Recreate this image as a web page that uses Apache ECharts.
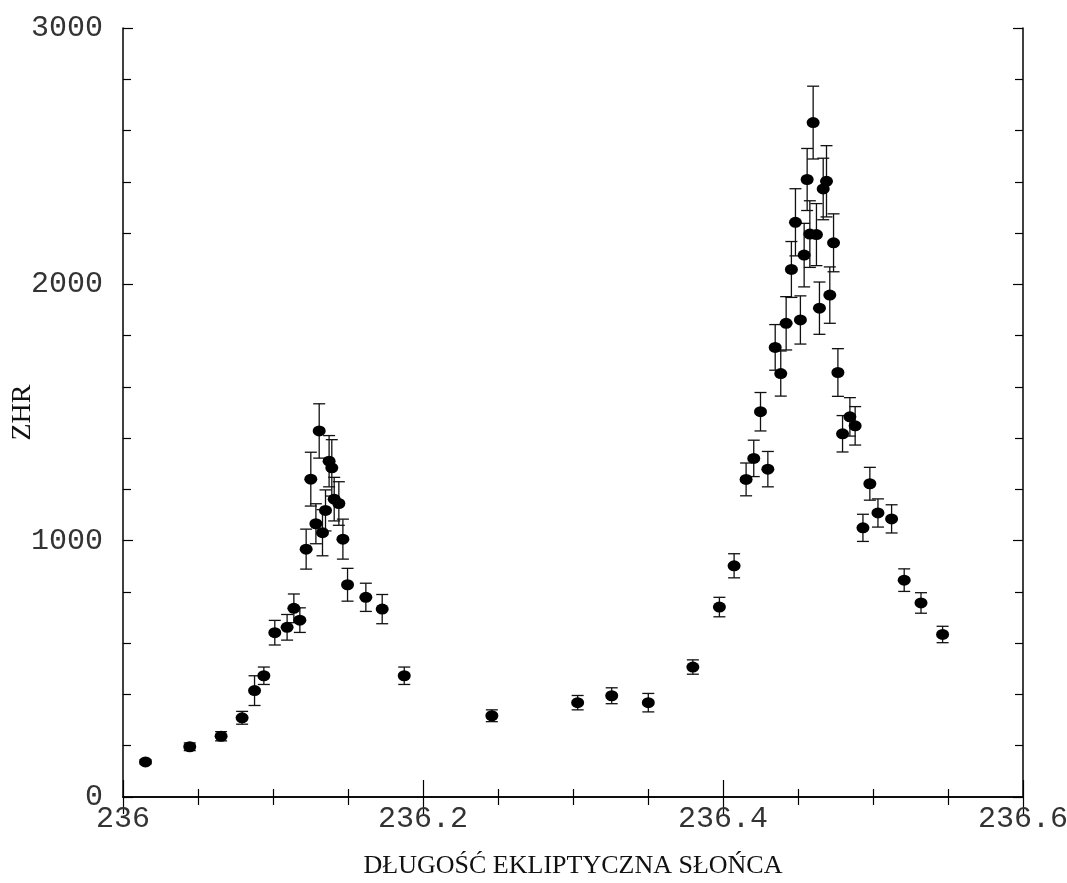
<!DOCTYPE html>
<html>
<head>
<meta charset="utf-8">
<script src="https://cdn.jsdelivr.net/npm/echarts@6/dist/echarts.min.js"></script>
<style>html,body{margin:0;padding:0;background:#fff}#c{width:1067px;height:883px}</style>
</head>
<body>
<div id="c"></div>
<script>
const solarLongitude = [236.015, 236.0445, 236.0654, 236.0794, 236.0877, 236.0939, 236.1012, 236.1094, 236.1139, 236.1179,
  236.1221, 236.1252, 236.1286, 236.1308, 236.1330, 236.1350, 236.1374, 236.1392, 236.1408, 236.1439,
  236.1466, 236.1497, 236.1619, 236.1728, 236.1875, 236.2459, 236.3031, 236.3258, 236.3502, 236.3799,
  236.3976, 236.4074, 236.4154, 236.4205, 236.4250, 236.4299, 236.4348, 236.4385, 236.4421, 236.4456,
  236.4483, 236.4516, 236.4541, 236.4561, 236.4579, 236.4601, 236.4623, 236.4643, 236.4668, 236.4690,
  236.4712, 236.4737, 236.4766, 236.4797, 236.4846, 236.4881, 236.4933, 236.4979, 236.5033, 236.5124,
  236.5208, 236.5320, 236.5464];
const zhr = [137, 196, 237, 309, 415, 473, 641, 662, 736, 690,
  967, 1240, 1066, 1428, 1031, 1118, 1310, 1284, 1162, 1145,
  1006, 828, 779, 733, 473, 317, 368, 395, 368, 507,
  741, 902, 1239, 1321, 1503, 1279, 1754, 1652, 1848, 2058,
  2242, 1861, 2114, 2409, 2196, 2631, 2194, 1907, 2372, 2402,
  1958, 2162, 1656, 1417, 1483, 1448, 1050, 1222, 1108, 1085,
  846, 757, 634];
const zhrErr = [8, 15, 18, 25, 58, 34, 48, 50, 56, 48,
  78, 105, 78, 106, 90, 80, 100, 110, 85, 85,
  78, 64, 55, 57, 34, 23, 28, 31, 36, 28,
  38, 47, 64, 71, 75, 69, 89, 88, 104, 109,
  131, 94, 124, 121, 130, 142, 121, 102, 120, 139,
  110, 113, 93, 71, 75, 75, 53, 64, 55, 55,
  44, 40, 32];
const xTicks = [236, 236.2, 236.4, 236.6];
const yTicks = [0, 1000, 2000, 3000];

const pts = solarLongitude.map((x, i) => [x, zhr[i]]);
const errData = solarLongitude.map((x, i) => [x, zhr[i], zhrErr[i]]);

const chart = echarts.init(document.getElementById('c'), null, {renderer: 'canvas'});
const labelFont = {fontFamily: 'Liberation Mono', fontSize: 30, color: '#333'};
const lineStyle = {color: '#000', width: 1.5};
chart.setOption({
  backgroundColor: '#fff',
  animation: false,
  grid: {left: 123, right: 44, top: 28, bottom: 86, containLabel: false, outerBoundsMode: 'none'},
  xAxis: [{
    type: 'value', min: 236, max: 236.6, interval: 0.2,
    axisLine: {lineStyle}, splitLine: {show: false},
    axisTick: {inside: true, length: 17, lineStyle: {color: '#000', width: 1.2}},
    minorTick: {show: true, splitNumber: 4, length: 8, lineStyle: {color: '#000', width: 1.2}},
    axisLabel: Object.assign({margin: 7, hideOverlap: false, formatter: v => {const t = xTicks.find(k => Math.abs(k - v) < 1e-6); return t === undefined ? '' : String(t);}}, labelFont),
    name: 'DŁUGOŚĆ EKLIPTYCZNA SŁOŃCA', nameLocation: 'middle', nameGap: 56, nameMoveOverlap: false,
    nameTextStyle: {fontFamily: 'Liberation Serif', fontSize: 26, color: '#111'}
  }, {
    type: 'value', position: 'top', min: 236, max: 236.6, interval: 0.2,
    axisLine: {lineStyle}, splitLine: {show: false}, axisLabel: {show: false},
    axisTick: {inside: true, length: 17, lineStyle: {color: '#000', width: 1.2}},
    minorTick: {show: true, splitNumber: 4, length: 8, lineStyle: {color: '#000', width: 1.2}}
  }],
  yAxis: [{
    type: 'value', min: 0, max: 3000, interval: 1000,
    axisLine: {show: true, lineStyle}, splitLine: {show: false},
    axisTick: {show: true, inside: true, length: 10, lineStyle: {color: '#000', width: 1.2}},
    minorTick: {show: true, splitNumber: 5, length: 8, lineStyle: {color: '#000', width: 1.2}},
    axisLabel: Object.assign({margin: 20, hideOverlap: false, formatter: v => {const t = yTicks.find(k => Math.abs(k - v) < 1e-6); return t === undefined ? '' : String(t);}}, labelFont),
    name: 'ZHR', nameLocation: 'middle', nameGap: 86, nameMoveOverlap: false,
    nameTextStyle: {fontFamily: 'Liberation Serif', fontSize: 28, color: '#111'}
  }, {
    type: 'value', position: 'right', min: 0, max: 3000, interval: 1000,
    axisLine: {show: true, lineStyle}, splitLine: {show: false}, axisLabel: {show: false},
    axisTick: {show: true, inside: true, length: 10, lineStyle: {color: '#000', width: 1.2}},
    minorTick: {show: true, splitNumber: 5, length: 8, lineStyle: {color: '#000', width: 1.2}}
  }],
  series: [{
    type: 'custom',
    xAxisIndex: 0, yAxisIndex: 0,
    data: errData,
    z: 2,
    renderItem: (params, api) => {
      const x = api.value(0), y = api.value(1), e = api.value(2);
      const lo = api.coord([x, y - e]);
      const hi = api.coord([x, y + e]);
      const hw = 6;
      const st = {stroke: '#111', lineWidth: 1.3};
      return {
        type: 'group',
        children: [
          {type: 'line', shape: {x1: lo[0], y1: lo[1], x2: hi[0], y2: hi[1]}, style: st},
          {type: 'line', shape: {x1: lo[0] - hw, y1: lo[1], x2: lo[0] + hw, y2: lo[1]}, style: st},
          {type: 'line', shape: {x1: hi[0] - hw, y1: hi[1], x2: hi[0] + hw, y2: hi[1]}, style: st}
        ]
      };
    }
  }, {
    type: 'scatter',
    xAxisIndex: 0, yAxisIndex: 0,
    data: pts,
    symbol: 'circle',
    symbolSize: [13, 11],
    itemStyle: {color: '#000', opacity: 1},
    z: 3
  }]
});
</script>
</body>
</html>
